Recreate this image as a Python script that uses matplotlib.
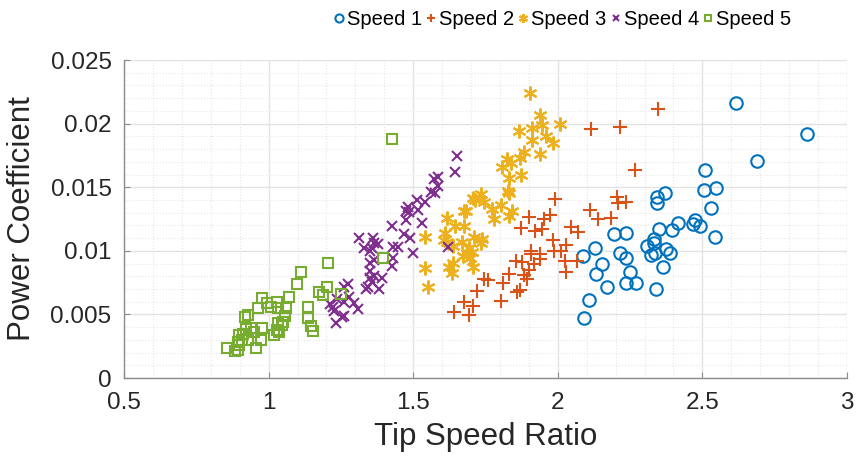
import matplotlib

matplotlib.use("Agg")

import matplotlib.pyplot as plt
from matplotlib.ticker import MultipleLocator, FormatStrFormatter

plt.rcParams["font.family"] = ["Liberation Sans", "DejaVu Sans"]

# Tip speed ratio / power coefficient, one pair of lists per speed setting
tsr_1 = [2.616, 2.861, 2.688, 2.508, 2.504, 2.546, 2.529, 2.545, 2.475, 2.466,
         2.492, 2.414, 2.396, 2.371, 2.344, 2.344, 2.349, 2.331, 2.331, 2.310,
         2.321, 2.336, 2.373, 2.388, 2.363, 2.338, 2.235, 2.193, 2.214, 2.235,
         2.249, 2.237, 2.272, 2.130, 2.088, 2.153, 2.133, 2.171, 2.107, 2.089]
cp_1 = [0.02164, 0.01918, 0.01706, 0.01635, 0.01478, 0.01493, 0.01336, 0.01111, 0.01240, 0.01213,
        0.01195, 0.01216, 0.01163, 0.01452, 0.01420, 0.01378, 0.01174, 0.01095, 0.01059, 0.01040,
        0.00969, 0.00985, 0.01014, 0.00985, 0.00872, 0.00700, 0.01137, 0.01130, 0.00985, 0.00941,
        0.00833, 0.00749, 0.00744, 0.01024, 0.00961, 0.00896, 0.00817, 0.00715, 0.00611, 0.00474]

tsr_2 = [2.346, 2.114, 2.215, 2.268, 2.206, 2.208, 2.237, 2.111, 2.139, 2.184,
         2.045, 2.070, 2.030, 2.024, 2.067, 2.027, 1.989, 1.902, 1.952, 1.972,
         1.871, 1.920, 1.944, 1.984, 1.906, 1.938, 1.940, 1.986, 2.012, 1.855,
         1.877, 1.917, 1.899, 1.883, 1.892, 1.831, 1.744, 1.759, 1.811, 1.858,
         1.870, 1.719, 1.805, 1.675, 1.706, 1.640, 1.694, 1.906]
cp_2 = [0.02114, 0.01955, 0.01975, 0.01632, 0.01425, 0.01378, 0.01383, 0.01318, 0.01247, 0.01255,
        0.01187, 0.01150, 0.01043, 0.00920, 0.00922, 0.00833, 0.01407, 0.01262, 0.01250, 0.01279,
        0.01179, 0.01158, 0.01174, 0.01082, 0.00998, 0.00975, 0.00938, 0.00998, 0.00998, 0.00922,
        0.00914, 0.00896, 0.00847, 0.00810, 0.00780, 0.00817, 0.00776, 0.00770, 0.00747, 0.00676,
        0.00689, 0.00681, 0.00605, 0.00595, 0.00566, 0.00516, 0.00493, 0.00975]

tsr_3 = [1.903, 1.937, 1.910, 1.944, 2.008, 1.866, 1.912, 1.959, 1.982, 1.937,
         1.884, 1.869, 1.824, 1.837, 1.806, 1.871, 1.831, 1.829, 1.831, 1.706,
         1.713, 1.734, 1.746, 1.803, 1.771, 1.677, 1.683, 1.842, 1.831, 1.778,
         1.617, 1.644, 1.677, 1.611, 1.606, 1.617, 1.637, 1.539, 1.711, 1.669,
         1.738, 1.733, 1.692, 1.704, 1.687, 1.698, 1.672, 1.706, 1.623, 1.637,
         1.635, 1.542, 1.552]
cp_3 = [0.02238, 0.02067, 0.01967, 0.01986, 0.01999, 0.01939, 0.01871, 0.01904, 0.01847, 0.01763,
        0.01776, 0.01732, 0.01721, 0.01690, 0.01661, 0.01596, 0.01569, 0.01470, 0.01452, 0.01417,
        0.01399, 0.01444, 0.01386, 0.01360, 0.01326, 0.01315, 0.01313, 0.01310, 0.01273, 0.01252,
        0.01260, 0.01197, 0.01195, 0.01137, 0.01085, 0.01071, 0.01040, 0.01106, 0.01106, 0.01067,
        0.01093, 0.01059, 0.01019, 0.00993, 0.00980, 0.00941, 0.00961, 0.00875, 0.00875, 0.00902,
        0.00823, 0.00867, 0.00718]

tsr_4 = [1.651, 1.644, 1.571, 1.585, 1.560, 1.577, 1.585, 1.514, 1.540, 1.481,
         1.476, 1.484, 1.516, 1.474, 1.531, 1.426, 1.469, 1.490, 1.311, 1.360,
         1.363, 1.377, 1.358, 1.329, 1.349, 1.431, 1.446, 1.499, 1.429, 1.363,
         1.352, 1.425, 1.352, 1.366, 1.350, 1.392, 1.358, 1.338, 1.344, 1.383,
         1.273, 1.262, 1.277, 1.262, 1.294, 1.213, 1.223, 1.235, 1.225, 1.309,
         1.254, 1.259, 1.234, 1.619]
cp_4 = [0.01745, 0.01619, 0.01561, 0.01582, 0.01464, 0.01456, 0.01509, 0.01399, 0.01386, 0.01342,
        0.01313, 0.01307, 0.01320, 0.01244, 0.01216, 0.01197, 0.01132, 0.01098, 0.01103, 0.01103,
        0.01059, 0.01051, 0.01019, 0.01019, 0.00998, 0.01032, 0.01032, 0.00980, 0.00941, 0.00927,
        0.00902, 0.00880, 0.00843, 0.00802, 0.00784, 0.00784, 0.00757, 0.00697, 0.00718, 0.00697,
        0.00739, 0.00713, 0.00634, 0.00600, 0.00592, 0.00582, 0.00560, 0.00620, 0.00529, 0.00540,
        0.00482, 0.00490, 0.00435, 0.01030]

tsr_5 = [1.205, 1.113, 1.098, 1.202, 1.173, 1.189, 1.250, 1.071, 1.136, 1.137,
         1.147, 1.153, 0.977, 0.994, 1.009, 1.029, 1.034, 1.060, 0.963, 0.930,
         0.917, 1.057, 1.031, 1.046, 1.048, 1.029, 1.037, 1.020, 0.977, 0.921,
         0.940, 0.951, 0.898, 0.913, 0.908, 0.930, 0.974, 0.894, 0.898, 0.856,
         0.882, 0.894, 0.956, 1.425, 1.396]
cp_5 = [0.00902, 0.00831, 0.00736, 0.00718, 0.00678, 0.00652, 0.00660, 0.00639, 0.00560, 0.00474,
        0.00411, 0.00369, 0.00626, 0.00587, 0.00560, 0.00595, 0.00548, 0.00553, 0.00553, 0.00495,
        0.00482, 0.00487, 0.00430, 0.00417, 0.00443, 0.00377, 0.00359, 0.00338, 0.00391, 0.00385,
        0.00395, 0.00364, 0.00338, 0.00343, 0.00299, 0.00299, 0.00299, 0.00281, 0.00259, 0.00233,
        0.00212, 0.00220, 0.00238, 0.01876, 0.00946]

labels = ["Speed 1", "Speed 2", "Speed 3", "Speed 4", "Speed 5"]

series = [
    (tsr_1, cp_1, "o", "#0072BD", 9),
    (tsr_2, cp_2, "+", "#D95319", 9.5),
    (tsr_3, cp_3, (6, 2, 0), "#EDB120", 10),
    (tsr_4, cp_4, "x", "#7E2F8E", 7),
    (tsr_5, cp_5, "s", "#77AC30", 7.5),
]

fig = plt.figure(figsize=(8.56, 4.61), dpi=100)
ax = fig.add_axes([0.1449, 0.18, 0.8446, 0.6898])

for (x, y, mk, col, ms), lab in zip(series, labels):
    ax.plot(x, y, linestyle="none", marker=mk, markersize=ms,
            markerfacecolor="none", markeredgecolor=col, markeredgewidth=1.5,
            label=lab)

ax.set_xlim(0.5, 3)
ax.set_ylim(0, 0.025)
ax.xaxis.set_major_locator(MultipleLocator(0.5))
ax.xaxis.set_minor_locator(MultipleLocator(0.1))
ax.yaxis.set_major_locator(MultipleLocator(0.005))
ax.yaxis.set_minor_locator(MultipleLocator(0.001))
ax.xaxis.set_major_formatter(FormatStrFormatter("%g"))
ax.yaxis.set_major_formatter(FormatStrFormatter("%g"))

ax.grid(True, which="major", color="#e3e3e3", linewidth=1.0)
ax.grid(True, which="minor", color="#e6e6e6", linewidth=0.8, linestyle=":")
ax.set_axisbelow(True)

for side in ["top", "right"]:
    ax.spines[side].set_visible(False)
for side in ["left", "bottom"]:
    ax.spines[side].set_color("#8c8c8c")
    ax.spines[side].set_linewidth(1.0)

ax.tick_params(which="major", direction="in", length=4, color="#8c8c8c",
               labelsize=17.5, labelcolor="#262626")
ax.tick_params(axis="x", which="major", pad=10)
ax.tick_params(axis="y", which="major", pad=9)
ax.tick_params(which="minor", length=0)

ax.set_xlabel("Tip Speed Ratio", fontsize=22.5, color="#262626", labelpad=6)
ax.set_ylabel("Power Coefficient", fontsize=22.5, color="#262626", labelpad=10)

leg = fig.legend(loc="upper center", bbox_to_anchor=(0.657, 1.005), ncol=5,
                 frameon=False, fontsize=14.5, markerscale=0.65,
                 handlelength=0.5, handletextpad=0.15, columnspacing=0.2,
                 borderaxespad=0.2)

fig.savefig("out.png", dpi=100)
